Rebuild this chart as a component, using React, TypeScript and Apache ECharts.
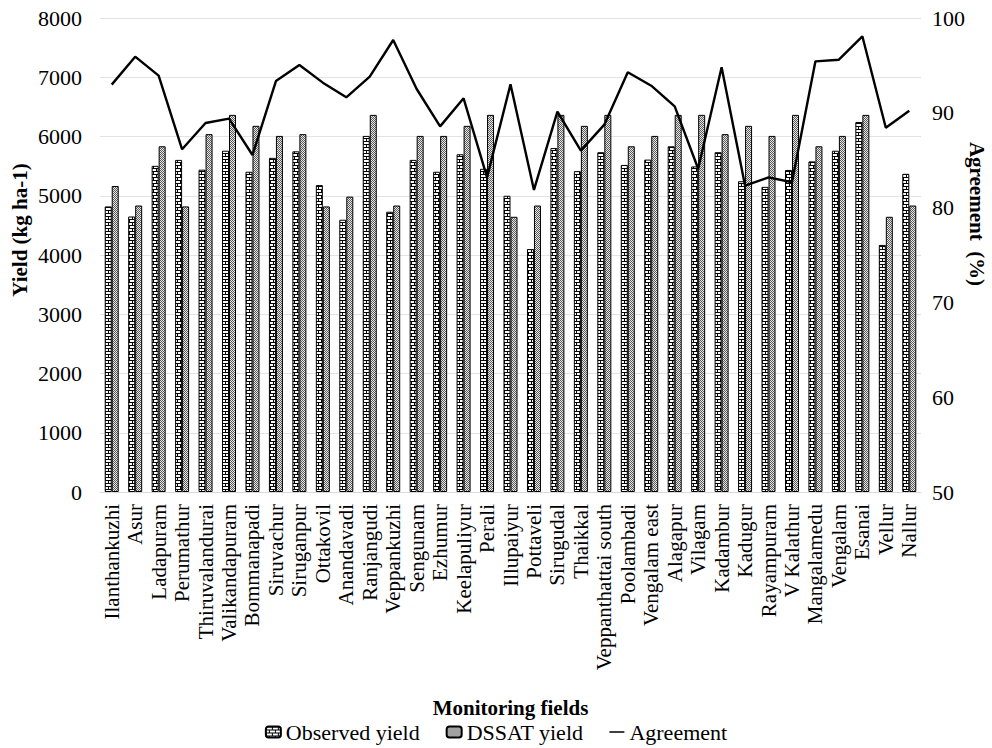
import React, { useEffect, useRef } from "react";
import * as echarts from "echarts";

const categories = [
  "Ilanthankuzhi", "Asur", "Ladapuram", "Perumathur", "Thiruvalandurai", "Valikandapuram",
  "Bommanapadi", "Siruvachur", "Siruganpur", "Ottakovil", "Anandavadi", "Ranjangudi",
  "Veppankuzhi", "Sengunam", "Ezhumur", "Keelapuliyur", "Perali", "Illupaiyur", "Pottaveli",
  "Sirugudal", "Thaikkal", "Veppanthattai south", "Poolambadi", "Vengalam east", "Alagapur",
  "Vilagam", "Kadambur", "Kadugur", "Rayampuram", "V Kalathur", "Mangalamedu", "Vengalam",
  "Esanai", "Vellur", "Nallur",
];

const observedYield = [
  4820, 4650, 5505, 5605, 5440, 5760, 5405, 5640, 5750, 5180, 4595, 6010, 4730, 5605, 5405,
  5700, 5455, 5000, 4100, 5805, 5415, 5735, 5520, 5610, 5835, 5495, 5735, 5245, 5150, 5435,
  5580, 5760, 6245, 4170, 5370,
];

const dssatYield = [
  5165, 4835, 5835, 4820, 6040, 6365, 6180, 6010, 6040, 4820, 4985, 6365, 4835, 6010, 6010,
  6180, 6365, 4645, 4835, 6365, 6180, 6365, 5835, 6010, 6365, 6365, 6040, 6180, 6010, 6365,
  5835, 6010, 6365, 4645, 4835,
];

const agreement = [
  92.97, 95.92, 93.92, 86.15, 88.92, 89.38, 85.55, 93.35, 95.04, 93.18, 91.63, 93.81, 97.68,
  92.51, 88.57, 91.53, 83.19, 93.0, 81.86, 90.12, 86.01, 88.75, 94.27, 92.86, 90.68, 84.1,
  94.8, 82.31, 83.19, 82.67, 95.43, 95.6, 98.07, 88.43, 90.22,
];

const FONT = "'Liberation Serif', 'Times New Roman', serif";

function brickPattern(): HTMLCanvasElement {
  const c = document.createElement("canvas");
  c.width = 6;
  c.height = 6;
  const ctx = c.getContext("2d")!;
  ctx.fillStyle = "#ffffff";
  ctx.fillRect(0, 0, 6, 6);
  ctx.fillStyle = "#000000";
  ctx.fillRect(0, 0, 6, 1);
  ctx.fillRect(0, 3, 6, 1);
  ctx.fillRect(0, 0, 1, 3);
  ctx.fillRect(3, 3, 1, 3);
  return c;
}

function dotPattern(): HTMLCanvasElement {
  const c = document.createElement("canvas");
  c.width = 2;
  c.height = 2;
  const ctx = c.getContext("2d")!;
  ctx.fillStyle = "#e8e8e8";
  ctx.fillRect(0, 0, 2, 2);
  ctx.fillStyle = "#5a5a5a";
  ctx.fillRect(0, 0, 1, 1);
  ctx.fillRect(1, 1, 1, 1);
  return c;
}

export default function App() {
  const ref = useRef<HTMLDivElement>(null);

  useEffect(() => {
    if (!ref.current) return;
    const chart = echarts.init(ref.current, undefined, { renderer: "svg" });
    const brick = brickPattern();
    const dots = dotPattern();

    chart.setOption({
      animation: false,
      textStyle: { fontFamily: FONT },
      grid: { left: 100, right: 71, top: 18, bottom: 256, containLabel: false },
      legend: {
        bottom: 0,
        left: "center",
        itemGap: 26,
        itemWidth: 15,
        itemHeight: 11,
        itemTextGap: 3,
        textStyle: { fontFamily: FONT, fontSize: 22, color: "#000" },
        data: [
          { name: "Observed yield" },
          { name: "DSSAT yield" },
          { name: "Agreement", icon: "path://M0,0 L20,0 L20,2 L0,2 Z" },
        ],
      },
      xAxis: {
        type: "category",
        data: categories,
        name: "Monitoring fields",
        nameLocation: "middle",
        nameGap: 205,
        nameTextStyle: { fontFamily: FONT, fontSize: 21, fontWeight: "bold", color: "#000" },
        axisLine: { show: true, lineStyle: { color: "#d9d9d9" } },
        axisTick: { show: false },
        axisLabel: {
          interval: 0,
          rotate: 90,
          margin: 12,
          fontFamily: FONT,
          fontSize: 21,
          color: "#000",
        },
      },
      yAxis: [
        {
          type: "value",
          min: 0,
          max: 8000,
          interval: 1000,
          axisLine: { show: false },
          axisTick: { show: false },
          splitLine: { lineStyle: { color: "#e3e3e3", width: 1 } },
          axisLabel: {
            margin: 18,
            fontFamily: FONT,
            fontSize: 22,
            color: "#000",
            formatter: (v: number) => String(v),
          },
        },
        {
          type: "value",
          min: 50,
          max: 100,
          interval: 10,
          position: "right",
          axisLine: { show: false },
          axisTick: { show: false },
          splitLine: { show: false },
          axisLabel: { margin: 11, fontFamily: FONT, fontSize: 22, color: "#000" },
        },
      ],
      graphic: [
        {
          type: "text",
          x: 20,
          y: 230,
          rotation: Math.PI / 2,
          style: {
            text: "Yield (kg ha-1)",
            font: `bold 21px ${FONT}`,
            fill: "#000",
            align: "center",
            verticalAlign: "middle",
          },
        },
        {
          type: "text",
          x: 977,
          y: 214,
          rotation: -Math.PI / 2,
          style: {
            text: "Agreement  (%)",
            font: `bold 21px ${FONT}`,
            fill: "#000",
            align: "center",
            verticalAlign: "middle",
          },
        },
      ],
      series: [
        {
          name: "Observed yield",
          type: "bar",
          data: observedYield,
          barWidth: 7,
          barGap: "0%",
          itemStyle: {
            color: { image: brick, repeat: "repeat", imageWidth: 6, imageHeight: 6 },
            borderColor: "#000",
            borderWidth: 1,
          },
        },
        {
          name: "DSSAT yield",
          type: "bar",
          data: dssatYield,
          barWidth: 7,
          barGap: "0%",
          itemStyle: {
            color: { image: dots, repeat: "repeat", imageWidth: 2, imageHeight: 2 },
            borderColor: "#000",
            borderWidth: 1,
          },
        },
        {
          name: "Agreement",
          type: "line",
          yAxisIndex: 1,
          data: agreement,
          symbol: "none",
          z: 5,
          lineStyle: { color: "#000", width: 2.4 },
          itemStyle: { color: "#000" },
        },
      ],
    });

    return () => {
      chart.dispose();
    };
  }, []);

  return (
    <div
      ref={ref}
      style={{ position: "fixed", left: 0, top: 0, width: 992, height: 748, background: "#fff" }}
    />
  );
}
